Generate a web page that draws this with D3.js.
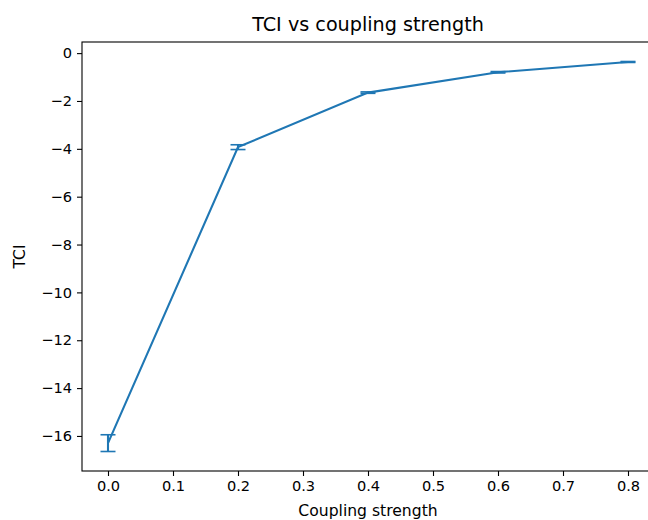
<!DOCTYPE html>
<html>
<head>
<meta charset="utf-8">
<script src="https://cdn.jsdelivr.net/npm/d3@7"></script>
<style>
  body { margin: 0; background: #fff; }
  text { font-family: "DejaVu Sans", sans-serif; fill: #000; }
</style>
</head>
<body>
<div id="chart"></div>
<script>
// data
var coupling = [0.0, 0.2, 0.4, 0.6, 0.8];
var tciMean = [-16.3, -3.93, -1.65, -0.8, -0.37];
var tciErr = [0.35, 0.1, 0.03, 0.03, 0.02];
var xTicks = [0.0, 0.1, 0.2, 0.3, 0.4, 0.5, 0.6, 0.7, 0.8];
var yTicks = [0, -2, -4, -6, -8, -10, -12, -14, -16];

var svgWidth = 648;
var svgHeight = 520;

var margin = { top: 42, right: -6, bottom: 49, left: 82 };
var width = svgWidth - margin.left - margin.right;
var height = svgHeight - margin.top - margin.bottom;

var svg = d3.select("#chart")
  .append("svg")
  .attr("width", svgWidth)
  .attr("height", svgHeight);

var chartGroup = svg.append("g")
  .attr("transform", `translate(${margin.left}, ${margin.top})`);

// matplotlib style 5% margins
var yLo = d3.min(tciMean, (d, i) => d - tciErr[i]);
var yHi = d3.max(tciMean, (d, i) => d + tciErr[i]);
var yPad = (yHi - yLo) * 0.05;
var xPad = 0.8 * 0.05;

var xScale = d3.scaleLinear()
  .domain([0 - xPad, 0.8 + xPad])
  .range([0, width]);

var yScale = d3.scaleLinear()
  .domain([yLo - yPad, yHi + yPad])
  .range([height, 0]);

var color = "#1f77b4";

// axes
var bottomAxis = d3.axisBottom(xScale)
  .tickValues(xTicks)
  .tickFormat(d3.format(".1f"))
  .tickSizeOuter(0)
  .tickSize(5)
  .tickPadding(5);

var leftAxis = d3.axisLeft(yScale)
  .tickValues(yTicks)
  .tickFormat(d3.format("d"))
  .tickSizeOuter(0)
  .tickSize(5)
  .tickPadding(5);

var xAxis = chartGroup.append("g")
  .attr("transform", `translate(0, ${height})`)
  .call(bottomAxis);

var yAxis = chartGroup.append("g")
  .call(leftAxis);

[xAxis, yAxis].forEach(function(ax) {
  ax.select(".domain").remove();
  ax.selectAll("line").attr("stroke", "#000").attr("stroke-width", 1.1);
  ax.selectAll("text").attr("font-size", "14.6px").attr("fill", "#000");
});

// spines
chartGroup.append("rect")
  .attr("x", 0)
  .attr("y", 0)
  .attr("width", width)
  .attr("height", height)
  .attr("fill", "none")
  .attr("stroke", "#000")
  .attr("stroke-width", 1.1);

// line
var line = d3.line()
  .x(d => xScale(d[0]))
  .y(d => yScale(d[1]));

var points = coupling.map((c, i) => [c, tciMean[i], tciErr[i]]);

chartGroup.append("path")
  .datum(points)
  .attr("d", line)
  .attr("fill", "none")
  .attr("stroke", color)
  .attr("stroke-width", 2.1);

// error bars
var errGroup = chartGroup.selectAll("g.err")
  .data(points)
  .enter()
  .append("g")
  .attr("class", "err");

errGroup.append("line")
  .attr("x1", d => xScale(d[0]))
  .attr("x2", d => xScale(d[0]))
  .attr("y1", d => yScale(d[1] - d[2]))
  .attr("y2", d => yScale(d[1] + d[2]))
  .attr("stroke", color)
  .attr("stroke-width", 2.1);

[-1, 1].forEach(function(s) {
  errGroup.append("line")
    .attr("x1", d => xScale(d[0]) - 7.5)
    .attr("x2", d => xScale(d[0]) + 7.5)
    .attr("y1", d => yScale(d[1] + s * d[2]))
    .attr("y2", d => yScale(d[1] + s * d[2]))
    .attr("stroke", color)
    .attr("stroke-width", 1.6);
});

// labels
svg.append("text")
  .attr("x", margin.left + width / 2)
  .attr("y", 31)
  .attr("text-anchor", "middle")
  .attr("font-size", "19.2px")
  .text("TCI vs coupling strength");

svg.append("text")
  .attr("x", margin.left + width / 2)
  .attr("y", 516)
  .attr("text-anchor", "middle")
  .attr("font-size", "15.6px")
  .text("Coupling strength");

svg.append("text")
  .attr("transform", "rotate(-90)")
  .attr("x", -(margin.top + height / 2))
  .attr("y", 25)
  .attr("text-anchor", "middle")
  .attr("font-size", "15.6px")
  .text("TCI");
</script>
</body>
</html>
